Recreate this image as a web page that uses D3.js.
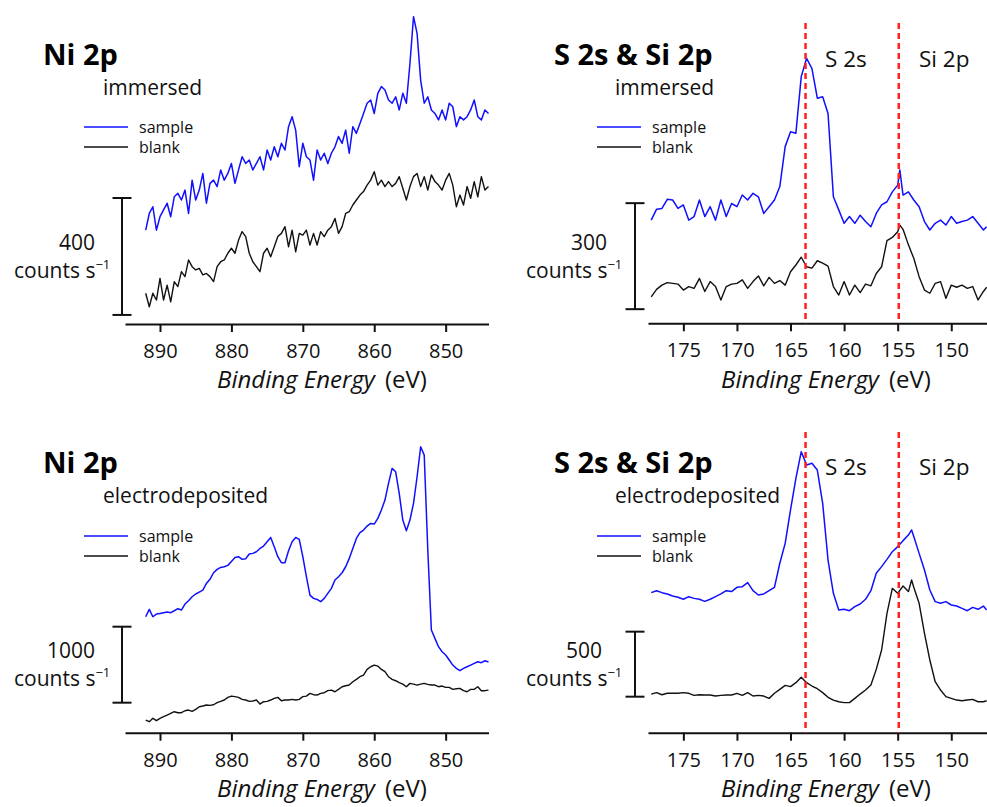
<!DOCTYPE html>
<html><head><meta charset="utf-8">
<script src="https://cdn.jsdelivr.net/npm/d3@7"></script>
<style>
html,body{margin:0;padding:0;background:#fff;}
svg{display:block;font-family:"Open Sans",sans-serif;}
</style></head><body>
<svg id="chart" width="987" height="807"></svg>
<script>
// ---------------- data ----------------
const niTicks = [890, 880, 870, 860, 850];
const siTicks = [175, 170, 165, 160, 155, 150];
const peakLines = [163.6, 154.9];
const peakLabels = ["S 2s", "Si 2p"];
const legendLabels = ["sample", "blank"];

const niEnergy = [892,891.5,891,890.5,890,889.5,889,888.5,888,887.5,
887,886.5,886,885.5,885,884.5,884,883.5,883,882.5,
882,881.5,881,880.5,880,879.5,879,878.5,878,877.5,
877,876.5,876,875.5,875,874.5,874,873.5,873,872.5,
872,871.5,871,870.5,870,869.5,869,868.5,868,867.5,
867,866.5,866,865.5,865,864.5,864,863.5,863,862.5,
862,861.5,861,860.5,860,859.5,859,858.5,858,857.5,
857,856.5,856,855.5,855,854.5,854,853.5,853,852.5,
852,851.5,851,850.5,850,849.5,849,848.5,848,847.5,
847,846.5,846,845.5,845,844.5,844];

const niImmSample = [321,378,401,321,367,390,413,367,435,447,
424,458,378,492,424,458,515,413,481,492,
470,527,492,515,549,481,527,572,549,561,
527,549,572,527,595,561,606,572,618,595,
675,709,663,538,618,572,561,492,595,561,
584,549,584,606,641,618,663,584,675,652,
686,720,755,766,720,789,812,800,766,755,
777,732,789,755,891,1051,994,834,755,777,
732,720,698,732,698,755,743,675,709,698,
709,732,766,709,698,732,720];

const niImmBlank = [105,59,105,82,156,82,133,76,145,128,
179,162,219,196,185,190,168,173,162,145,
196,213,219,242,259,242,287,316,299,242,
213,196,179,242,259,230,264,299,310,333,
264,321,247,310,304,321,270,310,270,316,
299,321,333,361,310,333,378,384,407,424,
441,453,475,492,521,475,492,470,487,470,
481,504,464,424,470,504,515,470,504,458,
510,487,475,458,492,515,475,401,441,407,
470,430,487,435,504,458,470];

const niElecSample = [1526,1623,1526,1561,1570,1579,1588,1579,1605,1632,
1614,1693,1737,1789,1825,1851,1877,1965,2018,2105,
2149,2175,2184,2202,2254,2307,2316,2281,2289,2351,
2360,2382,2425,2456,2513,2570,2447,2316,2237,2237,
2395,2513,2570,2544,2316,2053,1811,1768,1754,1724,
1768,1833,1899,2009,2053,2105,2184,2294,2425,2557,
2632,2667,2719,2754,2746,2820,2930,3061,3281,3478,
3434,3149,2798,2658,2798,3018,3368,3763,3653,2404,
1351,1241,1132,1066,1022,956,890,846,816,846,
868,890,912,934,921,947,930];

const niElecBlank = [167,145,189,158,189,211,232,254,276,263,
263,289,298,281,307,342,351,364,360,368,
395,412,430,465,482,474,465,439,430,412,
417,430,377,408,412,430,452,465,421,430,
430,439,430,439,474,482,518,500,496,518,
526,553,561,539,570,605,618,627,671,702,
737,759,833,868,890,877,833,803,737,702,
684,658,640,605,649,640,627,640,649,636,
627,627,605,614,596,596,570,579,583,553,
539,570,570,605,553,553,561];

const siImmEnergy = [178,177.5,177,176.5,176,175.5,175,174.5,174,173.5,
173,172.5,172,171.5,171,170.5,170,169.5,169,168.5,
168,167.5,167,166.5,166,165.5,165,164.5,164,163.5,
163,162.5,162,161.5,161,160.5,160,159.5,159,158.5,
158,157.5,157,156.5,156,155.5,155,154.8,154.5,154,
153.5,153,152.5,152,151.5,151,150.5,150,149.5,149,
148.5,148,147.5,147,146.7];

const siImmSample = [292,323,325,351,349,325,335,292,302,349,
302,330,292,349,302,339,330,363,349,368,
358,311,330,349,387,500,542,538,698,750,
721,637,641,594,358,321,283,302,283,306,
288,273,311,335,344,372,391,434,363,372,
349,330,288,264,283,292,278,302,283,288,
292,302,283,264,273];

const siImmBlank = [75,96,108,115,113,111,94,104,99,127,
90,118,104,66,104,111,113,123,99,118,
134,106,130,113,121,108,146,165,187,160,
156,177,170,162,104,80,118,80,108,87,
111,106,141,160,234,243,259,278,266,222,
184,132,94,85,113,118,71,108,102,108,
99,104,66,90,102];

const siElecEnergy = [178,177.5,177,176.5,176,175.5,175,174.5,174,173.5,
173,172.5,172,171.5,171,170.5,170,169.5,169,168.5,
168,167.5,167,166.5,166,165.5,165,164.5,164,163.5,
163,162.5,162,161.5,161,160.5,160,159.5,159,158.5,
158,157.5,157,156.5,156,155.5,155,154.5,154,153.7,
153.5,153,152.5,152,151.5,151,150.5,150,149.5,149,
148.5,148,147.5,147,146.7];

const siElecSample = [1077,1092,1077,1067,1051,1041,1026,1046,1033,1026,
1010,1026,1046,1067,1092,1085,1118,1123,1154,1092,
1059,1067,1092,1118,1303,1456,1713,1956,2161,2059,
2072,2020,1764,1328,1072,944,949,938,969,990,
1026,1092,1226,1277,1333,1392,1431,1477,1520,1559,
1508,1379,1251,1097,1008,995,1008,982,974,956,
938,964,949,974,944];

const siElecBlank = [297,308,292,303,303,303,308,303,287,292,
290,290,282,287,290,290,303,287,308,282,
287,282,264,303,333,364,354,385,426,385,
359,338,308,272,251,238,231,231,264,297,
328,367,487,636,918,1110,1072,1128,1085,1174,
1118,995,764,559,392,328,277,264,251,246,
251,256,238,238,246];

// ---------------- layout ----------------
const panels = [
 {energy:niEnergy, sample:niImmSample, blank:niImmBlank, ticks:niTicks,
  xDomain:[894.9,844], xRange:[125,488.5], axisY:324, pxPerCount:1/3.42,
  title:"Ni 2p", sub:"immersed", titleX:43, titleY:65, subX:103, subY:95,
  legX:84, legY:127, barX:122, barFrom:31, barLen:400, barLabelX:95, barLabelY:250,
  countsX:14, countsY:278, axTitleX:217, axTitleY:387, peaks:false},
 {energy:siImmEnergy, sample:siImmSample, blank:siImmBlank, ticks:siTicks,
  xDomain:[178.3,146.6], xRange:[648,987.7], axisY:323.3, pxPerCount:1/2.83,
  title:"S 2s & Si 2p", sub:"immersed", titleX:554, titleY:65, subX:615, subY:95,
  legX:597, legY:127, barX:635, barFrom:40, barLen:300, barLabelX:607, barLabelY:250,
  countsX:526, countsY:278, axTitleX:721, axTitleY:387, peaks:true, dashTop:23, peakLabelY:67},
 {energy:niEnergy, sample:niElecSample, blank:niElecBlank, ticks:niTicks,
  xDomain:[894.9,844], xRange:[125,488.5], axisY:732.7, pxPerCount:1/13.16,
  title:"Ni 2p", sub:"electrodeposited", titleX:43, titleY:473, subX:103, subY:503,
  legX:84, legY:536, barX:122, barFrom:395, barLen:1000, barLabelX:95, barLabelY:658,
  countsX:14, countsY:686, axTitleX:217, axTitleY:796, peaks:false},
 {energy:siElecEnergy, sample:siElecSample, blank:siElecBlank, ticks:siTicks,
  xDomain:[178.3,146.6], xRange:[648,987.7], axisY:732.7, pxPerCount:1/7.69,
  title:"S 2s & Si 2p", sub:"electrodeposited", titleX:554, titleY:473, subX:615, subY:503,
  legX:597, legY:536, barX:635, barFrom:277, barLen:500, barLabelX:602, barLabelY:658,
  countsX:526, countsY:686, axTitleX:721, axTitleY:796, peaks:true, dashTop:432, peakLabelY:475}
];
const peakLabelX = [825, 919];
const BLUE = "#1010ff";
const FONT = "'Open Sans', sans-serif";

const svg = d3.select("#chart");

panels.forEach(p => {
  const g = svg.append("g");
  const x = d3.scaleLinear().domain(p.xDomain).range(p.xRange);
  const y = d3.scaleLinear().domain([0, 1000]).range([p.axisY, p.axisY - 1000 * p.pxPerCount]);

  // axis
  const ax = g.append("g")
    .attr("transform", `translate(0,${p.axisY})`)
    .call(d3.axisBottom(x).tickValues(p.ticks).tickSize(8).tickSizeOuter(0).tickPadding(12));
  ax.attr("font-size", 20).attr("font-family", FONT);
  ax.select(".domain").attr("stroke", "#111").attr("stroke-width", 2);
  ax.selectAll(".tick line").attr("stroke", "#111").attr("stroke-width", 2);
  ax.selectAll(".tick text").attr("fill", "#111");

  // axis title
  const at = g.append("text").attr("x", p.axTitleX).attr("y", p.axTitleY + 1)
    .attr("font-size", 24).attr("font-family", FONT).attr("fill", "#111");
  at.append("tspan").attr("font-style", "italic").text("Binding Energy");
  at.append("tspan").attr("dx", 10).text("(eV)");

  // curves
  const line = d3.line().x((d, i) => x(p.energy[i])).y(d => y(d));
  g.append("path").datum(p.blank).attr("d", line)
    .attr("fill", "none").attr("stroke", "#111").attr("stroke-width", 1.4).attr("stroke-linejoin", "round");
  g.append("path").datum(p.sample).attr("d", line)
    .attr("fill", "none").attr("stroke", BLUE).attr("stroke-width", 1.5).attr("stroke-linejoin", "round");

  // peak guide lines
  if (p.peaks) {
    peakLines.forEach((e, i) => {
      g.append("line").attr("x1", x(e)).attr("x2", x(e))
        .attr("y1", p.dashTop).attr("y2", p.axisY)
        .attr("stroke", "#ff2020").attr("stroke-width", 2.5).attr("stroke-dasharray", "6,4");
      g.append("text").attr("x", peakLabelX[i]).attr("y", p.peakLabelY)
        .attr("font-size", 22.5).attr("font-family", FONT).attr("fill", "#111").text(peakLabels[i]);
    });
  }

  // titles
  g.append("text").attr("x", p.titleX).attr("y", p.titleY)
    .attr("font-size", 29).attr("font-weight", 700).attr("font-family", FONT).attr("fill", "#000").text(p.title);
  g.append("text").attr("x", p.subX).attr("y", p.subY)
    .attr("font-size", 21).attr("font-family", FONT).attr("fill", "#111").text(p.sub);

  // legend
  legendLabels.forEach((lab, i) => {
    const ly = p.legY + i * 20;
    g.append("line").attr("x1", p.legX).attr("x2", p.legX + 44).attr("y1", ly).attr("y2", ly)
      .attr("stroke", i === 0 ? BLUE : "#111").attr("stroke-width", 1.5);
    g.append("text").attr("x", p.legX + 55).attr("y", ly + 6)
      .attr("font-size", 16).attr("font-family", FONT).attr("fill", "#111").text(lab);
  });

  // scale bar
  const yb0 = y(p.barFrom), yb1 = y(p.barFrom + p.barLen);
  g.append("line").attr("x1", p.barX).attr("x2", p.barX).attr("y1", yb0).attr("y2", yb1)
    .attr("stroke", "#111").attr("stroke-width", 2);
  [yb0, yb1].forEach(yy => g.append("line").attr("x1", p.barX - 9.5).attr("x2", p.barX + 9.5)
    .attr("y1", yy).attr("y2", yy).attr("stroke", "#111").attr("stroke-width", 2));
  g.append("text").attr("x", p.barLabelX).attr("y", p.barLabelY).attr("text-anchor", "end")
    .attr("font-size", 21).attr("font-family", FONT).attr("fill", "#111").text(String(p.barLen));
  const ct = g.append("text").attr("x", p.countsX).attr("y", p.countsY)
    .attr("font-size", 21).attr("font-family", FONT).attr("fill", "#111");
  ct.append("tspan").text("counts s");
  ct.append("tspan").attr("font-size", 13).attr("dy", -9).text("\u22121");
});
</script>
</body></html>
